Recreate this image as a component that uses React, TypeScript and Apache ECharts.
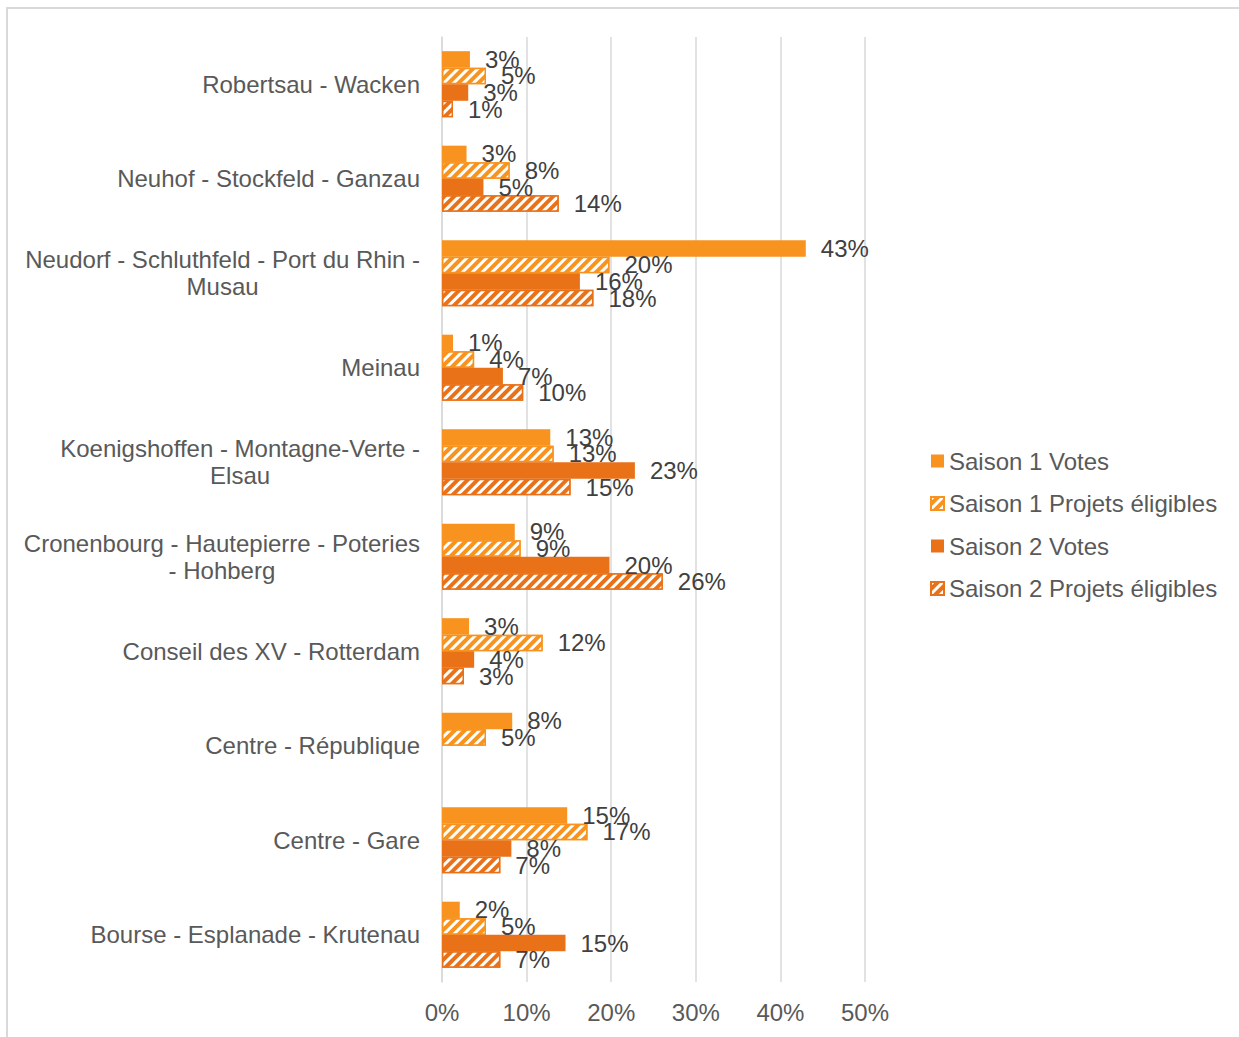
import React, { useEffect, useRef } from "react";
import * as echarts from "echarts";

const categories: string[] = [
  "Robertsau - Wacken",
  "Neuhof - Stockfeld - Ganzau",
  "Neudorf - Schluthfeld - Port du Rhin -\nMusau",
  "Meinau",
  "Koenigshoffen - Montagne-Verte -\nElsau",
  "Cronenbourg - Hautepierre - Poteries\n- Hohberg",
  "Conseil des XV - Rotterdam",
  "Centre - République",
  "Centre - Gare",
  "Bourse - Esplanade - Krutenau",
];

const s1Votes: (number | null)[] = [3.3, 2.9, 43.0, 1.3, 12.8, 8.6, 3.2, 8.3, 14.8, 2.1];
const s1Eligible: (number | null)[] = [5.2, 8.0, 19.8, 3.8, 13.2, 9.3, 11.9, 5.2, 17.2, 5.2];
const s2Votes: (number | null)[] = [3.1, 4.9, 16.3, 7.2, 22.8, 19.8, 3.8, null, 8.2, 14.6];
const s2Eligible: (number | null)[] = [1.3, 13.8, 17.9, 9.6, 15.2, 26.1, 2.6, null, 6.9, 6.9];

const seriesNames: string[] = [
  "Saison 1 Votes",
  "Saison 1 Projets éligibles",
  "Saison 2 Votes",
  "Saison 2 Projets éligibles",
];

const xTicks = { min: 0, max: 50, interval: 10 };

const C1 = "#F7931E";
const C2 = "#E97118";
const FONT = "'Liberation Sans', Arial, sans-serif";
const FS = 24;

export default function App() {
  const ref = useRef<HTMLDivElement>(null);
  useEffect(() => {
    if (!ref.current) return;
    const chart = echarts.init(ref.current, undefined, { renderer: "svg" });
    const decal = {
      symbol: "rect",
      symbolSize: 1,
      dashArrayX: [1, 0],
      dashArrayY: [3, 4],
      rotation: -Math.PI / 4,
      color: "#ffffff",
    };
    const label = {
      show: true,
      position: "right",
      distance: 15,
      fontFamily: FONT,
      fontSize: FS,
      color: "#404040",
      formatter: (p: any) => (p.value == null ? "" : Math.round(p.value) + "%"),
    };
    const mk = (name: string, data: (number | null)[], color: string, hatched: boolean) => ({
      name,
      type: "bar",
      data,
      barGap: "0%",
      barCategoryGap: "30%",
      label,
      itemStyle: hatched
        ? { color, borderColor: color, borderWidth: 1.5, decal }
        : { color },
    });
    chart.setOption({
      animation: false,
      textStyle: { fontFamily: FONT },
      graphic: [
        {
          type: "rect",
          shape: { x: 7, y: 8, width: 1300, height: 1100 },
          style: { fill: "none", stroke: "#d9d9d9", lineWidth: 2 },
          silent: true,
        },
      ],
      grid: { left: 442, right: 374, top: 37, bottom: 55 },
      legend: {
        orient: "vertical",
        left: 930,
        top: 449,
        padding: 0,
        itemWidth: 13,
        itemHeight: 13,
        itemGap: 18.5,
        icon: "rect",
        textStyle: { fontFamily: FONT, fontSize: FS, color: "#595959" },
        data: seriesNames,
      },
      xAxis: {
        type: "value",
        min: xTicks.min,
        max: xTicks.max,
        interval: xTicks.interval,
        axisLine: { show: false },
        axisTick: { show: false },
        splitLine: { show: true, lineStyle: { color: "#d9d9d9", width: 1.5 } },
        axisLabel: {
          margin: 18,
          fontFamily: FONT,
          fontSize: FS,
          color: "#595959",
          formatter: (v: number) => v + "%",
        },
      },
      yAxis: {
        type: "category",
        inverse: true,
        data: categories,
        axisLine: { show: true, lineStyle: { color: "#d9d9d9", width: 1.5 } },
        axisTick: { show: false },
        axisLabel: {
          margin: 22,
          fontFamily: FONT,
          fontSize: FS,
          color: "#595959",
          lineHeight: 27,
          formatter: (v: string) => v.split("\n").map((l) => `{c|${l}}`).join("\n"),
          rich: {
            c: { align: "center", fontFamily: FONT, fontSize: FS, color: "#595959", lineHeight: 27 },
          },
        },
      },
      series: [
        mk(seriesNames[0], s1Votes, C1, false),
        mk(seriesNames[1], s1Eligible, C1, true),
        mk(seriesNames[2], s2Votes, C2, false),
        mk(seriesNames[3], s2Eligible, C2, true),
      ],
    });
    return () => chart.dispose();
  }, []);
  return (
    <div
      ref={ref}
      style={{ position: "absolute", left: 0, top: 0, width: 1239, height: 1037, background: "#fff" }}
    />
  );
}
